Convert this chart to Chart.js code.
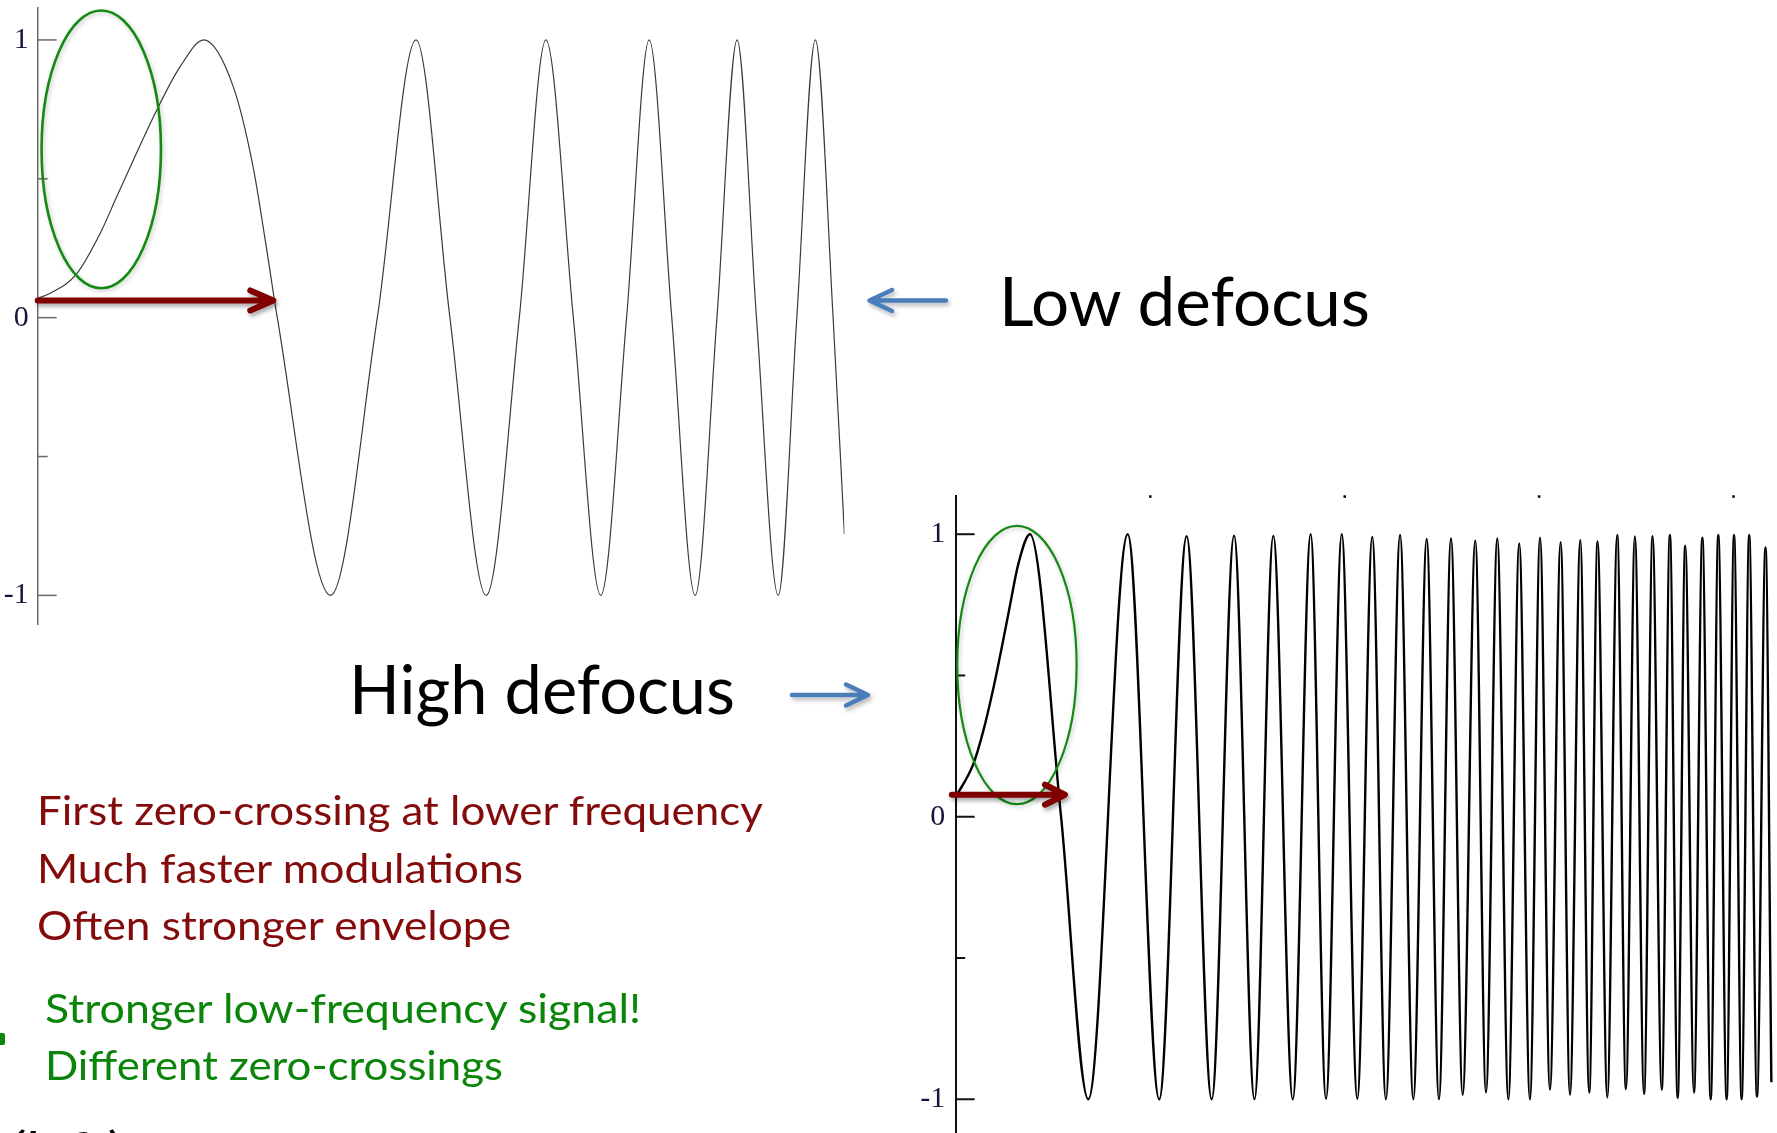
<!DOCTYPE html>
<html>
<head>
<meta charset="utf-8">
<title>Low vs high defocus CTF</title>
<script src="https://cdn.jsdelivr.net/npm/chart.js@4.4.1/dist/chart.umd.min.js"></script>
<style>
  html, body { margin: 0; padding: 0; background: #fff; width: 1777px; height: 1133px; overflow: hidden; }
  .box { position: absolute; }
  .t { position: absolute; white-space: nowrap; font-family: Lato, "Open Sans", sans-serif; line-height: 1; transform-origin: 0 0; }
</style>
</head>
<body>

<svg width="1777" height="1133" style="position:absolute;left:0;top:0">
  <defs>
    <filter id="soft" x="-20%" y="-50%" width="140%" height="200%">
      <feDropShadow dx="2" dy="3" stdDeviation="2" flood-color="#000" flood-opacity="0.28"/>
    </filter>
  </defs>
  <g stroke="#4a7ebb" stroke-width="4.5" fill="none" stroke-linecap="round" stroke-linejoin="round" filter="url(#soft)">
    <path d="M946 300.5 H871 M892 290 L869.5 300.5 L892 311"/>
    <path d="M792 695 H866 M846 684.5 L868 695 L846 705.5"/>
  </g>
  <rect x="-5" y="1033" width="10" height="12" rx="2" fill="#0a850a"/>
</svg>

<div class="box" style="left:0;top:0;width:870px;height:640px"><canvas id="lowDefocus"></canvas></div>
<div class="box" style="left:900px;top:480px;width:877px;height:680px"><canvas id="highDefocus"></canvas></div>

<div class="t" data-x="999" data-base="326" data-w="371" style="font-size:68px;color:#000">Low defocus</div>
<div class="t" data-x="349" data-base="714" data-w="386" style="font-size:68px;color:#000">High defocus</div>

<div class="t" data-x="37" data-base="825" data-w="726" style="font-size:40px;color:#840b0b">First zero-crossing at lower frequency</div>
<div class="t" data-x="37" data-base="882.5" data-w="486" style="font-size:40px;color:#840b0b">Much faster modulations</div>
<div class="t" data-x="37" data-base="940" data-w="474" style="font-size:40px;color:#840b0b">Often stronger envelope</div>

<div class="t" data-x="45" data-base="1023" data-w="596" style="font-size:41px;color:#0a850a">Stronger low-frequency signal!</div>
<div class="t" data-x="45" data-base="1080" data-w="458" style="font-size:41px;color:#0a850a">Different zero-crossings</div>

<div class="t" data-x="8" data-base="1161" data-w="112" style="font-size:40px;color:#000;font-style:italic">(left)</div>

<script>
// ---- Low defocus CTF: spatial frequency (arbitrary units) vs. contrast ----
const lowX = [0, 1.5, 4.83, 7.72, 9.79, 11.85, 14.75, 17.64, 20.6, 24.25, 26.7, 28.4, 29.7,
              36.3, 42.1, 46.9, 51.1, 55.6, 59.7, 63.0, 66.4, 69.8, 73.0, 75.8, 78.6,
              81.5, 84.2, 86.7, 89.1, 91.8, 94.1, 96.4, 98.6, 100];
const lowY = [0.07, 0.087, 0.158, 0.302, 0.435, 0.567, 0.747, 0.903, 1, 0.831, 0.543, 0.243, 0,
              -1, 0, 1, 0, -1, 0, 1, 0, -1, 0, 1, 0,
              -1, 0, 1, 0, -1, 0, 1, 0, -0.78];

// ---- High defocus CTF ----
const highX = [0, 0.0905, 0.142, 0.193, 0.237, 0.279, 0.322, 0.382, 0.542, 0.682,
               0.885, 1.047, 1.188, 1.317, 1.432, 1.537, 1.634, 1.734, 1.826, 1.905,
               1.986, 2.066, 2.143, 2.213, 2.286, 2.354, 2.423, 2.486, 2.548, 2.608,
               2.673, 2.728, 2.786, 2.843, 2.899, 2.954, 3.006, 3.057, 3.112, 3.160,
               3.213, 3.259, 3.302, 3.352, 3.403, 3.448, 3.494, 3.541, 3.585, 3.632,
               3.674, 3.714, 3.753, 3.798, 3.841, 3.884, 3.923, 3.966, 4.004, 4.043,
               4.082, 4.122, 4.166, 4.196];
const highY = [0.07, 0.186, 0.304, 0.452, 0.599, 0.747, 0.894, 1.0, 0, -1,
               1.0, -1, 0.993, -1, 0.995, -1, 0.994, -1, 1.0, -0.998,
               1.0, -0.998, 0.99, -1, 0.997, -1, 0.983, -1, 0.985, -0.984,
               0.977, -0.976, 0.985, -1, 0.967, -1, 0.988, -0.966, 0.972, -0.984,
               0.979, -0.976, 0.974, -0.993, 0.997, -0.964, 0.992, -0.981, 0.993, -0.966,
               0.997, -0.995, 0.959, -0.976, 0.988, -1, 0.997, -1, 0.997, -1,
               0.997, -0.991, 0.953, -0.94];

// ---- axis ticks ----
const yTickValues = [-1, -0.5, 0, 0.5, 1];
const yTickLabels = ['-1', '', '0', '', '1'];
const highTopTicks = [1, 2, 3, 4];

const toPoints = (xs, ys) => xs.map((x, i) => ({ x, y: ys[i] }));

// Inward tick marks, top tick dots, highlight ellipse and zero-crossing arrow
const ctfMarks = {
  id: 'ctfMarks',
  beforeDatasetsDraw(chart, args, o) {
    const { ctx, chartArea: a, scales: { x, y } } = chart;
    ctx.save();
    ctx.strokeStyle = o.axisColor;
    ctx.lineWidth = o.axisWidth;
    y.ticks.forEach(t => {
      const py = y.getPixelForValue(t.value);
      const len = Number.isInteger(t.value) ? o.majorTick : o.minorTick;
      ctx.beginPath();
      ctx.moveTo(a.left, py);
      ctx.lineTo(a.left + len, py);
      ctx.stroke();
    });
    ctx.fillStyle = '#000';
    (o.topTicks || []).forEach(v => {
      const px = x.getPixelForValue(v);
      ctx.fillRect(px - 1, a.top - 0.5, 2.5, 2.5);
    });
    ctx.restore();
  },
  afterDatasetsDraw(chart, args, o) {
    const { ctx, scales: { x, y } } = chart;
    const e = o.ellipse, ar = o.arrow;
    ctx.save();
    // highlight ellipse
    const cx = x.getPixelForValue(e.cx), cy = y.getPixelForValue(e.cy);
    const rx = Math.abs(x.getPixelForValue(e.cx + e.rx) - cx);
    const ry = Math.abs(y.getPixelForValue(e.cy + e.ry) - cy);
    ctx.shadowColor = 'rgba(0,0,0,0.22)';
    ctx.shadowBlur = 4; ctx.shadowOffsetX = 1.5; ctx.shadowOffsetY = 2;
    ctx.strokeStyle = e.color; ctx.lineWidth = e.width;
    ctx.beginPath();
    ctx.ellipse(cx, cy, rx, ry, 0, 0, Math.PI * 2);
    ctx.stroke();
    // arrow to the first zero crossing
    const x0 = x.getPixelForValue(ar.from), x1 = x.getPixelForValue(ar.to), py = y.getPixelForValue(ar.y);
    ctx.shadowColor = 'rgba(0,0,0,0.35)';
    ctx.shadowBlur = 4; ctx.shadowOffsetX = 2; ctx.shadowOffsetY = 3;
    ctx.strokeStyle = ar.color; ctx.lineWidth = ar.width;
    ctx.lineCap = 'round'; ctx.lineJoin = 'round';
    ctx.beginPath();
    ctx.moveTo(x0, py); ctx.lineTo(x1 - 2, py);
    ctx.moveTo(x1 - ar.head, py - ar.spread); ctx.lineTo(x1, py); ctx.lineTo(x1 - ar.head, py + ar.spread);
    ctx.stroke();
    ctx.restore();
  }
};

function ctfChart(id, pts, cfg) {
  return new Chart(document.getElementById(id), {
    type: 'line',
    data: {
      datasets: [{
        data: pts,
        borderColor: cfg.lineColor,
        borderWidth: cfg.lineWidth,
        cubicInterpolationMode: 'monotone',
        pointRadius: 0,
        fill: false
      }]
    },
    options: {
      responsive: true,
      maintainAspectRatio: false,
      animation: false,
      events: [],
      layout: { padding: cfg.padding },
      plugins: { legend: { display: false }, tooltip: { enabled: false }, ctfMarks: cfg.marks },
      scales: {
        x: { type: 'linear', display: false, min: cfg.xMin, max: cfg.xMax },
        y: {
          type: 'linear',
          min: cfg.yMin, max: cfg.yMax,
          afterFit: s => { s.width = cfg.axisLeft; s.paddingTop = 0; s.paddingBottom = 0; },
          afterBuildTicks: s => { s.ticks = yTickValues.map(v => ({ value: v })); },
          grid: { display: false, drawTicks: false },
          border: { display: true, color: cfg.marks.axisColor, width: cfg.marks.axisWidth },
          ticks: {
            padding: cfg.labelPad,
            color: '#16163a',
            font: { family: '"Liberation Serif", "DejaVu Serif", serif', size: 30 },
            callback: v => yTickLabels[yTickValues.indexOf(v)] ?? ''
          }
        }
      }
    },
    plugins: [ctfMarks]
  });
}

ctfChart('lowDefocus', toPoints(lowX, lowY), {
  lineColor: '#3a3a3a', lineWidth: 1.2,
  padding: { top: 8, right: 25.6, bottom: 16, left: 0 },
  axisLeft: 37.7, labelPad: 9,
  xMin: 0, xMax: 100, yMin: -1.103, yMax: 1.115,
  marks: {
    axisColor: '#6a6a6a', axisWidth: 1.5, majorTick: 19, minorTick: 10,
    ellipse: { cx: 7.88, cy: 0.606, rx: 7.4, ry: 0.5, color: '#138a13', width: 2.6 },
    arrow: { from: 0, to: 29.2, y: 0.062, color: '#800000', width: 6, head: 23, spread: 10 }
  }
});

ctfChart('highDefocus', toPoints(highX, highY), {
  lineColor: '#000', lineWidth: 2.4,
  padding: { top: 15.8, right: 0, bottom: 0, left: 0 },
  axisLeft: 55.7, labelPad: 10.5,
  xMin: 0, xMax: 4.225, yMin: -1.215, yMax: 1.136,
  marks: {
    axisColor: '#111', axisWidth: 2, majorTick: 19, minorTick: 9.5,
    topTicks: highTopTicks,
    ellipse: { cx: 0.315, cy: 0.537, rx: 0.307, ry: 0.4926, color: '#138a13', width: 2.2 },
    arrow: { from: -0.02, to: 0.562, y: 0.078, color: '#800000', width: 6, head: 20, spread: 10 }
  }
});

// Slide captions: placed on a baseline and fitted to their line width
function placeCaptions() {
  document.querySelectorAll('.t').forEach(el => {
    el.style.left = el.dataset.x + 'px';
    el.style.top = '0px';
    el.style.transform = 'none';
    const probe = document.createElement('span');
    probe.style.cssText = 'display:inline-block;width:0;height:0;vertical-align:baseline';
    el.appendChild(probe);
    const baseOff = probe.offsetTop;
    el.removeChild(probe);
    el.style.top = (parseFloat(el.dataset.base) - baseOff) + 'px';
    const w = el.getBoundingClientRect().width;
    el.style.transform = 'scaleX(' + (parseFloat(el.dataset.w) / w) + ')';
  });
}
placeCaptions();
if (document.fonts && document.fonts.ready) document.fonts.ready.then(placeCaptions);
</script>
</body>
</html>
